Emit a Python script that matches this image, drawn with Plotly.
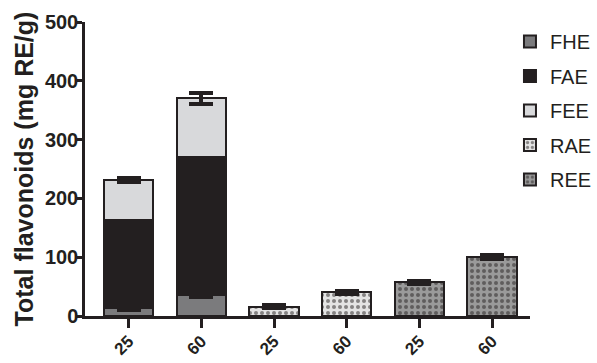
import plotly.graph_objects as go

categories = ["25", "60", "25", "60", "25", "60"]
x_pos = [0, 1, 2, 3, 4, 5]

fhe = [13, 36]
fhe_err = [2, 3]
fae = [150, 235]
fae_err = [3, 3]
fee = [68, 99]
fee_err = [3, 9]
rae = [16, 40]
rae_err = [2, 2.5]
ree = [57, 100]
ree_err = [2, 3]

ink = "#231f20"
fig = go.Figure()

def add(name, xs, ys, errs, color, pattern=None):
    marker = dict(color=color, line=dict(color=ink, width=2))
    if pattern:
        marker["pattern"] = pattern
    fig.add_trace(go.Bar(
        name=name, x=xs, y=ys, marker=marker, width=0.68,
        legendgroup=name,
        error_y=dict(type="data", array=errs, visible=True, color=ink, thickness=4, width=12),
    ))

add("FHE", x_pos[0:2], fhe, fhe_err, "#7b7b7d")
add("FAE", x_pos[0:2], fae, fae_err, ink)
add("FEE", x_pos[0:2], fee, fee_err, "#d8d9db")
add("RAE", x_pos[2:4], rae, rae_err, "#e4e4e4",
    dict(shape=".", fgcolor=ink, bgcolor="#e4e4e4", size=6, solidity=0.35))
add("REE", x_pos[4:6], ree, ree_err, "#9a9a9a",
    dict(shape=".", fgcolor=ink, bgcolor="#9a9a9a", size=6, solidity=0.35))

fig.update_layout(
    width=597, height=363,
    margin=dict(l=85, r=67, t=22, b=47, autoexpand=False),
    barmode="stack",
    plot_bgcolor="white", paper_bgcolor="white",
    font=dict(family="Liberation Sans, Arial", color=ink),
    showlegend=True,
    legend=dict(x=0.955, y=1.0, xanchor="left", yanchor="top",
                font=dict(size=20, color=ink), traceorder="grouped",
                tracegroupgap=5.5, bgcolor="rgba(0,0,0,0)"),
    xaxis=dict(
        range=[-0.6, 5.52], tickmode="array", tickvals=x_pos, ticktext=categories,
        tickangle=-45, ticks="outside", ticklen=9, tickwidth=2.5, tickcolor=ink,
        showline=True, linewidth=2.5, linecolor=ink, showgrid=False, zeroline=False,
        automargin=False, ticklabelstandoff=-3,
        tickfont=dict(size=17, weight="bold"),
    ),
    yaxis=dict(
        range=[0, 500], tickvals=[0, 100, 200, 300, 400, 500],
        ticks="outside", ticklen=5, tickwidth=2.5, tickcolor=ink,
        showline=True, linewidth=2.5, linecolor=ink, showgrid=False, zeroline=False,
        automargin=False, ticklabelstandoff=-5,
        tickfont=dict(size=20, weight="bold"),
        title=dict(text="Total flavonoids (mg RE/g)", font=dict(size=25, weight="bold"), standoff=5),
    ),
)

fig.write_html("out.html")
